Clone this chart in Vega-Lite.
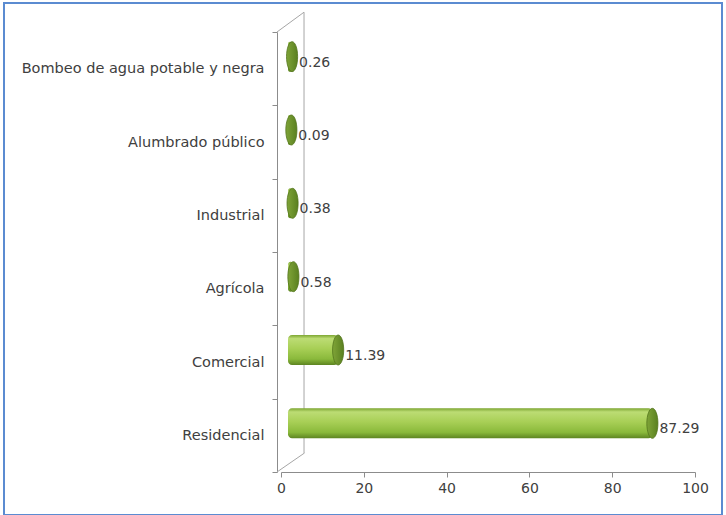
{
  "$schema": "https://vega.github.io/schema/vega-lite/v6.json",
  "autosize": "none",
  "width": 718,
  "height": 512,
  "padding": {"left": 4, "top": 3, "right": 4, "bottom": 0},
  "background": "white",
  "config": {
    "view": {"stroke": "#5b8bd1", "strokeWidth": 2},
    "font": "DejaVu Sans"
  },
  "datasets": {
    "energia": [
      {"sector": "Bombeo de agua potable y negra", "valor": 0.26},
      {"sector": "Alumbrado público", "valor": 0.09},
      {"sector": "Industrial", "valor": 0.38},
      {"sector": "Agrícola", "valor": 0.58},
      {"sector": "Comercial", "valor": 11.39},
      {"sector": "Residencial", "valor": 87.29}
    ],
    "marco": [
      {"x": 5.56, "x2": 5.56, "y": 0.26, "y2": 6.27},
      {"x": -0.97, "x2": 5.56, "y": 6.0, "y2": 6.27},
      {"x": -0.97, "x2": 5.7, "y": 0.0, "y2": 0.26}
    ]
  },
  "layer": [
    {
      "data": {"name": "marco"},
      "mark": {"type": "rule", "color": "#a6a6a6", "strokeWidth": 1},
      "encoding": {
        "x": {
          "field": "x", "type": "quantitative",
          "scale": {"domain": [0, 100], "range": [277, 691], "nice": false, "zero": false},
          "axis": {
            "title": null, "values": [0, 20, 40, 60, 80, 100], "offset": -43, "grid": false,
            "tickSize": 5, "labelPadding": 4, "labelFlush": false,
            "domainColor": "#8c8c8c", "tickColor": "#8c8c8c", "labelColor": "#404040",
            "labelFontSize": 14, "labelFont": "DejaVu Sans"
          }
        },
        "x2": {"field": "x2"},
        "y": {"field": "y", "type": "quantitative", "scale": {"domain": [0, 6], "range": [469, 29], "nice": false}, "axis": null},
        "y2": {"field": "y2"}
      }
    },
    {
      "data": {"name": "energia"},
      "encoding": {
        "y": {
          "field": "sector", "type": "nominal", "sort": null,
          "scale": {"range": [29, 469], "paddingInner": 0, "paddingOuter": 0},
          "axis": {
            "title": null, "offset": -273, "tickBand": "extent", "tickSize": 5,
            "labelPadding": 8, "domainColor": "#8c8c8c", "tickColor": "#8c8c8c",
            "labelColor": "#404040", "labelFontSize": 14.5, "labelLimit": 0,
            "labelFont": "DejaVu Sans", "grid": false
          }
        },
        "x": {
          "field": "valor", "type": "quantitative",
          "scale": {"domain": [0, 100], "range": [277, 691], "nice": false, "zero": false},
          "axis": {
            "title": null, "values": [0, 20, 40, 60, 80, 100], "offset": -43, "grid": false,
            "tickSize": 5, "labelPadding": 4, "labelFlush": false,
            "domainColor": "#8c8c8c", "tickColor": "#8c8c8c", "labelColor": "#404040",
            "labelFontSize": 14, "labelFont": "DejaVu Sans"
          }
        }
      },
      "layer": [
        {
          "mark": {
            "type": "bar", "size": 30, "xOffset": 10, "x2Offset": 7, "yOffset": -12,
            "cornerRadius": 4,
            "color": {
              "gradient": "linear", "x1": 0, "y1": 0, "x2": 0, "y2": 1,
              "stops": [
                {"offset": 0, "color": "#7da632"},
                {"offset": 0.12, "color": "#bcdc74"},
                {"offset": 0.45, "color": "#a8cf56"},
                {"offset": 0.8, "color": "#8ab93b"},
                {"offset": 1, "color": "#5d8421"}
              ]
            }
          },
          "encoding": {"x2": {"datum": 0}}
        },
        {
          "mark": {
            "type": "point", "filled": true,
            "shape": "M0,-1A0.37,1,0,1,1,0,1A0.37,1,0,1,1,0,-1Z",
            "size": 900, "xOffset": 10, "yOffset": -12, "opacity": 1,
            "fill": {
              "gradient": "linear", "x1": 0, "y1": 0, "x2": 1, "y2": 0,
              "stops": [
                {"offset": 0, "color": "#7fa438"},
                {"offset": 1, "color": "#5a8020"}
              ]
            },
            "stroke": "#52731c", "strokeWidth": 0.8
          }
        },
        {
          "mark": {
            "type": "text", "align": "left", "baseline": "middle", "dx": 17, "dy": -6,
            "fontSize": 14, "color": "#404040", "font": "DejaVu Sans"
          },
          "encoding": {"text": {"field": "valor", "type": "quantitative", "format": ".2f"}}
        }
      ]
    }
  ],
  "resolve": {"scale": {"y": "independent"}}
}
